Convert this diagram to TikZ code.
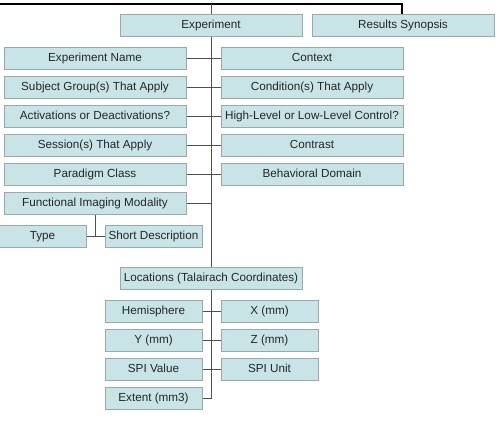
\documentclass[tikz,border=0pt]{standalone}
\usepackage{fontspec}
\setmainfont{Liberation Sans}
\definecolor{boxfill}{HTML}{C8E4E6}
\definecolor{boxline}{HTML}{9AA8A8}
\definecolor{conn}{HTML}{505050}
\begin{document}
\begin{tikzpicture}[x=1pt,y=-1pt,
  box/.style={draw=boxline,fill=boxfill,line width=1pt,minimum height=22pt,inner sep=0pt,
    text height=8.6pt,text depth=2.4pt,
    font=\fontsize{11.7}{13}\selectfont,text=black!85},
  wide/.style={box,minimum width=182pt},
  narrow/.style={box,minimum width=97pt},
  link/.style={draw=conn,line width=0.9pt}]
\useasboundingbox (0,0) rectangle (504,423);
% top nodes
\node[wide] (exp) at (211,25) {Experiment};
\node[wide] (res) at (403,25) {Results Synopsis};
% left column
\node[wide] (l1) at (95,58) {Experiment Name};
\node[wide] (l2) at (95,87) {Subject Group(s) That Apply};
\node[wide] (l3) at (95,116) {Activations or Deactivations?};
\node[wide] (l4) at (95,145) {Session(s) That Apply};
\node[wide] (l5) at (95,174) {Paradigm Class};
\node[wide] (l6) at (95,203) {Functional Imaging Modality};
% right column
\node[wide] (r1) at (312,58) {Context};
\node[wide] (r2) at (312,87) {Condition(s) That Apply};
\node[wide] (r3) at (312,116) {High-Level or Low-Level Control?};
\node[wide] (r4) at (312,145) {Contrast};
\node[wide] (r5) at (312,174) {Behavioral Domain};
% modality children
\node[box,minimum width=87pt] (type) at (42.5,236) {Type};
\node[narrow] (short) at (153.5,236) {Short Description};
% locations
\node[wide] (loc) at (211,278) {Locations (Talairach Coordinates)};
\node[narrow] (h1) at (153.5,311) {Hemisphere};
\node[narrow] (h2) at (153.5,340) {Y (mm)};
\node[narrow] (h3) at (153.5,369) {SPI Value};
\node[narrow] (h4) at (153.5,398) {Extent (mm3)};
\node[narrow] (k1) at (269.5,311) {X (mm)};
\node[narrow] (k2) at (269.5,340) {Z (mm)};
\node[narrow] (k3) at (269.5,369) {SPI Unit};
% connectors
\coordinate (tl) at (0,3.5);
\draw[black,line width=2pt] (tl) -| ([xshift=-1pt]res.north);
\draw[link] (exp.north) -- (exp.north |- tl);
\draw[link] (exp.south) -- (loc.north);
\foreach \i in {1,...,5} {\draw[link] (l\i.east) -- (r\i.west);}
\draw[link] (l6.east) -- (l6.east -| exp.south);
\draw[link] (l6.south) -- (l6.south |- type.east);
\draw[link] (type.east) -- (short.west);
\foreach \i in {1,2,3} {\draw[link] (h\i.east) -- (k\i.west);}
\draw[link] (loc.south) -- (loc.south |- h4.east) -- (h4.east);
\end{tikzpicture}
\end{document}
